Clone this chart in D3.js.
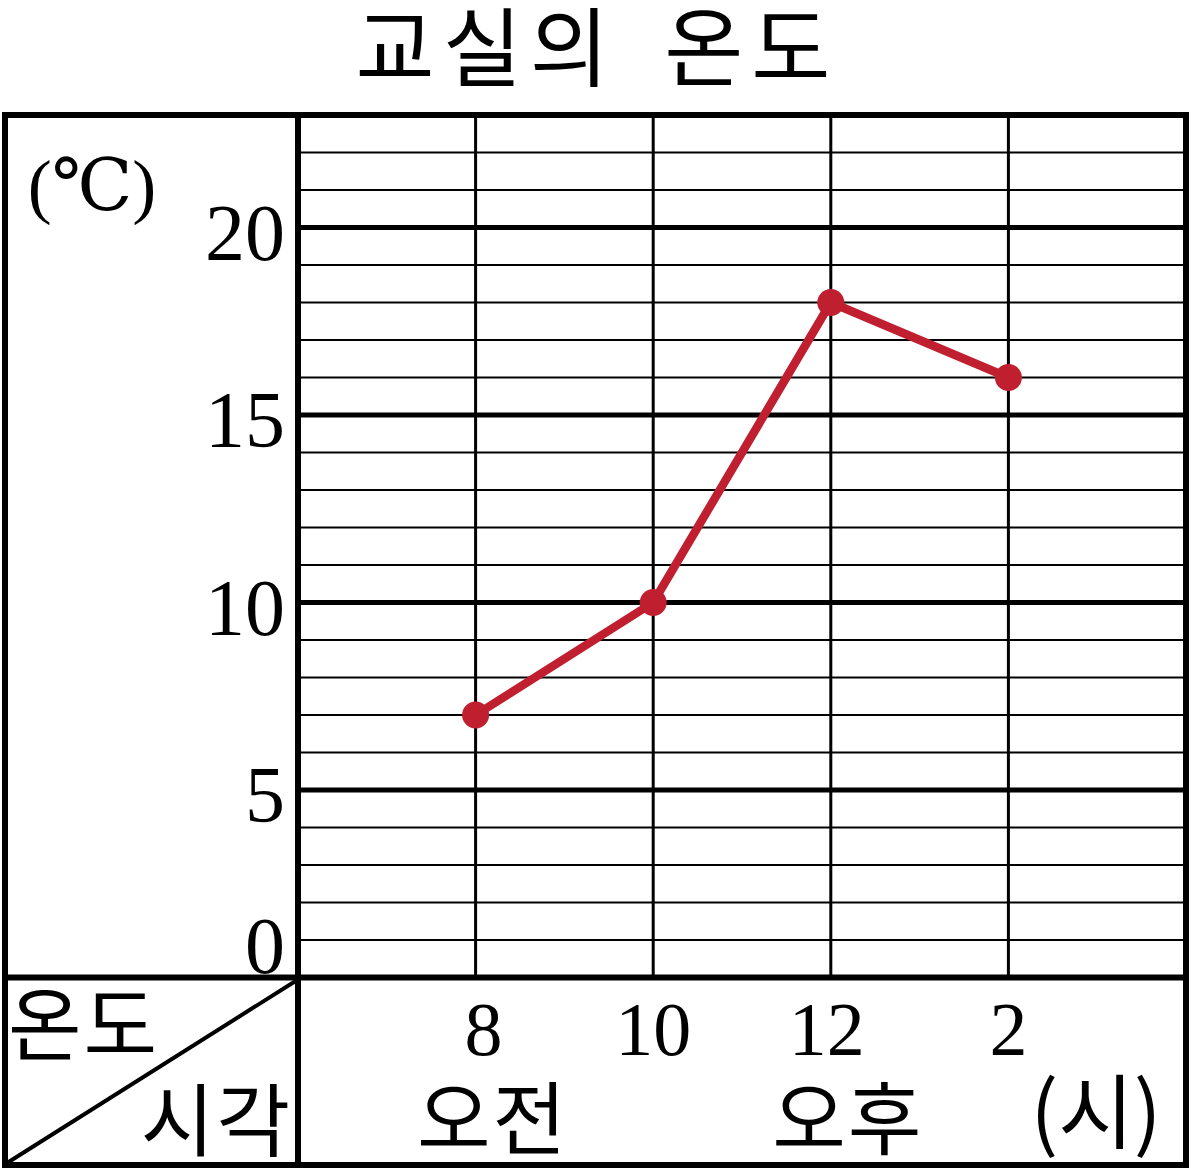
<!DOCTYPE html>
<html><head><meta charset="utf-8">
<script src="https://cdn.jsdelivr.net/npm/d3@7"></script>
<style>body{margin:0;background:#fff}svg{display:block}</style>
</head><body>
<script>
const title = "교실의 온도";
const hours = ["8", "10", "12", "2"];
const periods = [{label: "오전", at: 0}, {label: "오후", at: 2}];
const temps = [7, 10, 18, 16];
const yTicks = [0, 5, 10, 15, 20];
const unitY = "(℃)";
const unitX = "(시)";
const cornerTop = "온도";
const cornerBottom = "시각";

const W = 1191, H = 1172;
const L = 5, R = 1186, T = 115, B = 1165;
const divX = 298, plotBottom = 977.5;

const svg = d3.select("body").append("svg").attr("width", W).attr("height", H);

const x = d3.scaleLinear().domain([0, hours.length + 1]).range([divX, R]);
const y = d3.scaleLinear().domain([0, 23]).range([plotBottom, T]);

const serif = "'Liberation Serif','DejaVu Serif',serif";
const kr = "'Noto Sans CJK KR',sans-serif";

// title
svg.append("text").attr("x", 597).attr("y", 80).attr("text-anchor", "middle")
  .attr("font-family", kr).attr("font-size", 86).attr("word-spacing", 20).attr("letter-spacing", 8)
  .text(title);

// horizontal grid
const hv = d3.range(1, 23);
svg.append("g").selectAll("line").data(hv).join("line")
  .attr("x1", divX).attr("x2", R).attr("y1", d => y(d)).attr("y2", d => y(d))
  .attr("stroke", "#000").attr("stroke-width", d => d % 5 === 0 ? 5 : 2);

// vertical grid
svg.append("g").selectAll("line").data(hours).join("line")
  .attr("x1", (d, i) => x(i + 1)).attr("x2", (d, i) => x(i + 1))
  .attr("y1", T).attr("y2", plotBottom)
  .attr("stroke", "#000").attr("stroke-width", 3);

// frame lines
const frame = svg.append("g").attr("stroke", "#000").attr("stroke-width", 6).attr("fill", "none");
frame.append("rect").attr("x", L).attr("y", T).attr("width", R - L).attr("height", B - T);
frame.append("line").attr("x1", divX).attr("x2", divX).attr("y1", T).attr("y2", B);
frame.append("line").attr("x1", L).attr("x2", R).attr("y1", plotBottom).attr("y2", plotBottom);
svg.append("line").attr("x1", divX).attr("y1", plotBottom + 2).attr("x2", L + 2).attr("y2", B - 2)
  .attr("stroke", "#000").attr("stroke-width", 4);

// y tick labels
svg.append("g").selectAll("text").data(yTicks).join("text")
  .attr("x", 285).attr("y", d => Math.min(y(d) + 32, plotBottom - 5))
  .attr("text-anchor", "end").attr("font-family", serif).attr("font-size", 80)
  .text(d => d);

svg.append("text").attr("x", 92).attr("y", 210).attr("text-anchor", "middle")
  .attr("font-family", serif).attr("font-size", 72).text(unitY);

// x labels
svg.append("g").selectAll("text").data(hours).join("text")
  .attr("x", (d, i) => x(i + 1) + (i === 0 ? 8 : i === 2 ? -4 : 0)).attr("y", 1055)
  .attr("text-anchor", "middle").attr("font-family", serif).attr("font-size", 76)
  .text(d => d);

svg.append("g").selectAll("text").data(periods).join("text")
  .attr("x", d => x(d.at + 1) + 17).attr("y", 1148)
  .attr("text-anchor", "middle").attr("font-family", kr).attr("font-size", 80)
  .attr("letter-spacing", 2)
  .text(d => d.label);

svg.append("text").attr("x", 1096).attr("y", 1142).attr("text-anchor", "middle")
  .attr("font-family", kr).attr("font-size", 82).text(unitX);

svg.append("text").attr("x", 8).attr("y", 1054).attr("font-family", kr).attr("font-size", 80)
  .attr("letter-spacing", 2).text(cornerTop);
svg.append("text").attr("x", 292).attr("y", 1150).attr("text-anchor", "end").attr("font-family", kr)
  .attr("font-size", 80).attr("letter-spacing", 2).text(cornerBottom);

// data line
const red = "#C01F30";
const line = d3.line().x((d, i) => x(i + 1)).y(d => y(d));
svg.append("path").datum(temps).attr("d", line).attr("fill", "none")
  .attr("stroke", red).attr("stroke-width", 8.5).attr("stroke-linejoin", "round");
svg.append("g").selectAll("circle").data(temps).join("circle")
  .attr("cx", (d, i) => x(i + 1)).attr("cy", d => y(d)).attr("r", 13.5).attr("fill", red);
</script>
</body></html>
